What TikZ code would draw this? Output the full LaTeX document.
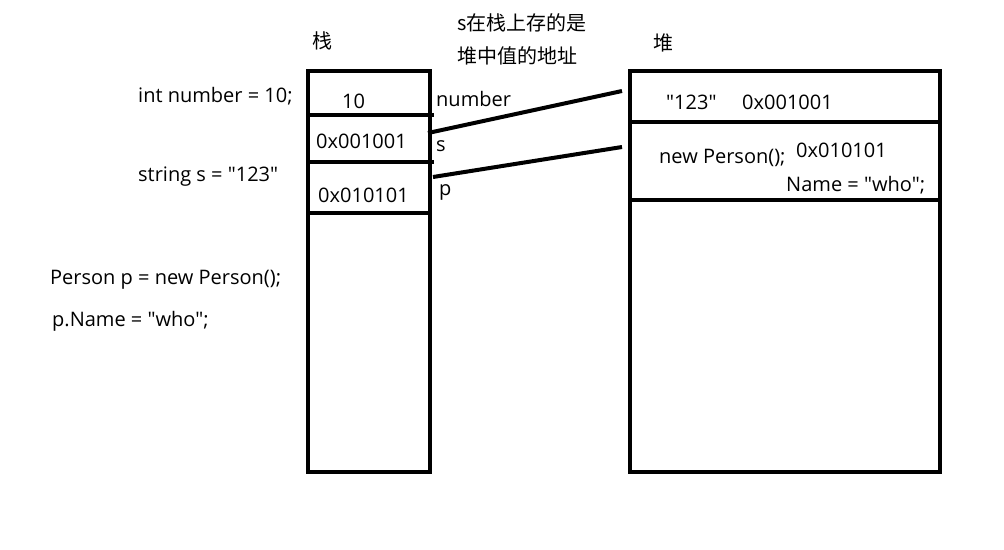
\documentclass[tikz,border=0pt]{standalone}
\usepackage{fontspec}
\setmainfont{Open Sans}[Ligatures=TeXOff]
\newfontfamily\cjk{Noto Sans CJK SC}
\usetikzlibrary{positioning}

\begin{document}
\begin{tikzpicture}[x=1pt, y=-1pt,
    cell/.style={rectangle, draw=black, line width=4pt, inner sep=0pt, outer sep=0pt},
    scell/.style={cell, minimum width=122pt},
    hcell/.style={cell, minimum width=310pt},
    txt/.style={anchor=base west, inner sep=0pt, font=\fontsize{20}{24}\selectfont},
    link/.style={line width=4pt}
]
    \useasboundingbox (0,0) rectangle (1004,549);

    % Stack
    \node[scell, minimum height=44pt] (num) at (369,93) {};
    \node[scell, minimum height=47pt, below=0pt of num] (str) {};
    \node[scell, minimum height=51pt, below=0pt of str] (obj) {};
    \node[scell, minimum height=259pt, below=0pt of obj] (sfree) {};
    \draw[link] (num.south east) -- ++(4,0);
    \draw[link] (str.south east) -- ++(4,0);

    % Heap
    \node[hcell, minimum height=51pt] (hstr) at (785,96.5) {};
    \node[hcell, minimum height=78pt, below=0pt of hstr] (hobj) {};
    \node[hcell, minimum height=272pt, below=0pt of hobj] (hfree) {};

    % Titles
    \node[txt] (stitle) at (312,48) {\cjk 栈};
    \node[txt] (htitle) at (653,50) {\cjk 堆};
    \node[txt] (note1) at (457,30) {\cjk s在栈上存的是};
    \node[txt] (note2) at (457,63) {\cjk 堆中值的地址};

    % Code
    \node[txt] (code1) at (138,102) {int number = 10;};
    \node[txt] (code2) at (138,181) {string s = "123"};
    \node[txt] (code3) at (50,284) {Person p = new Person();};
    \node[txt] (code4) at (52,326) {p.Name = "who";};

    % Stack values
    \node[txt] (vnum) at (342,108) {10};
    \node[txt] (vstr) at (316,148) {0x001001};
    \node[txt] (vobj) at (318,202) {0x010101};
    \node[txt] (lnum) at (436,106) {number};
    \node[txt] (lstr) at (436,151) {s};
    \node[txt] (lobj) at (439,195) {p};

    % Heap values
    \node[txt] (hval) at (666,109) {"123"};
    \node[txt] (haddr) at (742,109) {0x001001};
    \node[txt] (hnew) at (659,163) {new Person();};
    \node[txt] (hoaddr) at (796,157) {0x010101};
    \node[txt] (hname) at (786,191) {Name = "who";};

    % Links
    \coordinate (strout) at (428,133);
    \coordinate (strin) at (622,91);
    \coordinate (objout) at (433,177);
    \coordinate (objin) at (622,147);
    \draw[link] (strout) -- (strin);
    \draw[link] (objout) -- (objin);

\end{tikzpicture}
\end{document}
